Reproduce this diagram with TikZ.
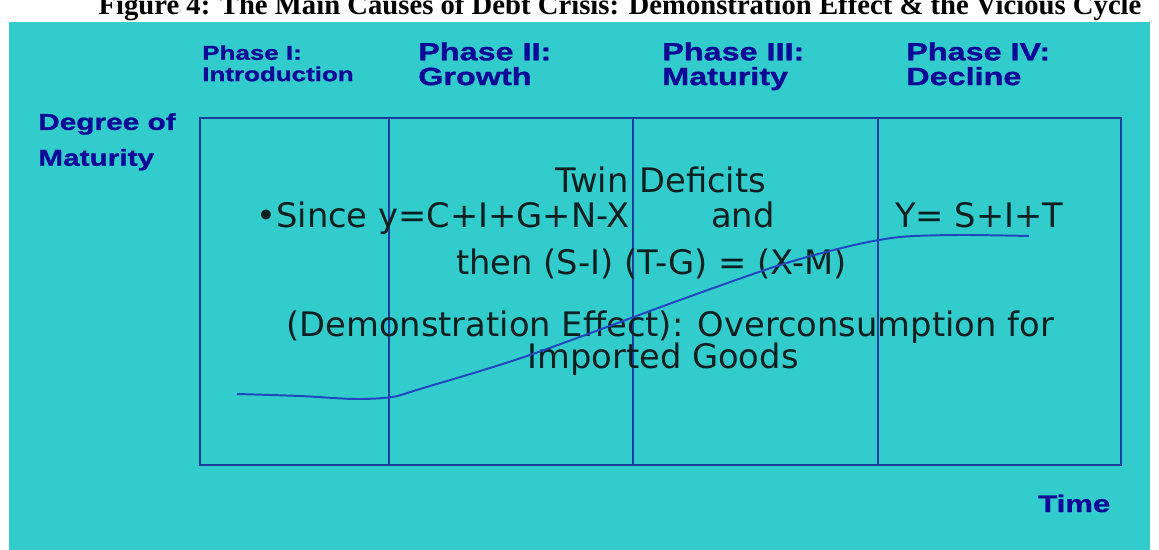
\documentclass[tikz,border=0pt]{standalone}
\usepackage{fontspec}
\setmainfont{DejaVu Sans}
\newfontfamily\phasefont[FakeStretch=1.3, BoldFeatures={FakeBold=1.2}]{Liberation Sans}
\newfontfamily\capfont{Liberation Serif}
\usepackage{tikz}
\usetikzlibrary{positioning}
\definecolor{slidecyan}{HTML}{33CCCC}
\definecolor{framblue}{HTML}{1C3C9C}
\definecolor{curveblue}{HTML}{2046C0}
\definecolor{phasenavy}{HTML}{0A0A96}
\definecolor{textdark}{HTML}{0A2020}

\begin{document}
\begin{tikzpicture}[
  x=0.025cm, y=-0.025cm,
  frame/.style={draw=framblue, line width=1.8pt},
  phase/.style={anchor=north west, inner sep=0pt, align=left, text=phasenavy,
    font=\phasefont\bfseries\fontsize{17.7}{17.6}\selectfont},
  axislabel/.style={inner sep=0pt, align=left, text=phasenavy,
    font=\phasefont\bfseries\fontsize{16.3}{25.5}\selectfont},
  bodytext/.style={anchor=base west, inner sep=0pt, text=textdark,
    font=\fontsize{24}{28}\selectfont}
]

  \useasboundingbox (0,0) rectangle (1159,550);
  \fill[white] (0,0) rectangle (1159,550);
  \fill[slidecyan] (9,22) rectangle (1150,550);

  % caption cut off at the top edge
  \begin{scope}
    \clip (0,0) rectangle (1159,550);
    \node[anchor=base, inner sep=0pt, font=\capfont\bfseries\fontsize{20.4}{22}\selectfont]
      (caption) at (620,15)
      {Figure 4: The Main Causes of Debt Crisis: Demonstration Effect \& the Vicious Cycle};
  \end{scope}

  % phases
  \node[phase, font=\phasefont\bfseries\fontsize{14.2}{15.2}\selectfont] (p1) at (202,45)
    {Phase I:\\Introduction};
  \node[phase] (p2) at (418,42) {Phase II:\\Growth};
  \node[phase] (p3) at (662,42) {Phase III:\\Maturity};
  \node[phase] (p4) at (906,42) {Phase IV:\\Decline};

  \node[axislabel, anchor=north west] (deg) at (38,113) {Degree of\\Maturity};
  \node[axislabel, anchor=base west, font=\phasefont\bfseries\fontsize{17}{18}\selectfont]
    (time) at (1038,512) {Time};

  \draw[frame] (200,118) rectangle (1121,465);
  \foreach \x in {389,633,878}
    \draw[frame] (\x,118) -- (\x,465);

  % text of the slide
  \node[bodytext] (twin) at (555,193) {Twin Deficits};
  \node[bodytext] (since) at (256,228) {•Since y=C+I+G+N-X};
  \node[bodytext] (and) at (711,228) {and};
  \node[bodytext] (yeq) at (895,228) {Y= S+I+T};
  \node[bodytext] (then) at (456,275) {then (S-I) (T-G) = (X-M)};
  \node[bodytext] (demo) at (286,337) {(Demonstration Effect): Overconsumption for};
  \node[bodytext] (goods) at (527,369) {Imported Goods};

  % life cycle curve
  \draw[curveblue, line width=1.4pt] plot[smooth, tension=0.5] coordinates
    {(237,394) (300,396) (355,399) (392,397) (420,389) (527,356) (680,300)
     (780,265) (850,246) (900,237) (960,235) (1029,236)};

\end{tikzpicture}
\end{document}
